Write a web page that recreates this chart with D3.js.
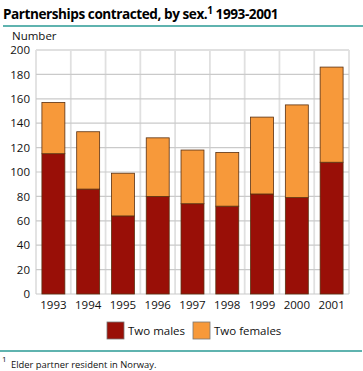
<!DOCTYPE html>
<html><head><meta charset="utf-8">
<script src="https://cdn.jsdelivr.net/npm/d3@7"></script>
<style>body{margin:0;background:#fff}svg{display:block}</style>
</head><body>
<svg id="c" width="363" height="371"></svg>
<script>
const years = ["1993","1994","1995","1996","1997","1998","1999","2000","2001"];
const twoMales = [115, 86, 64, 80, 74, 72, 82, 79, 108];
const twoFemales = [42, 47, 35, 48, 44, 44, 63, 76, 78];
const seriesNames = ["Two males", "Two females"];
const colors = ["#990f07", "#f7993a"];
const yTicks = [0,20,40,60,80,100,120,140,160,180,200];

const font = "'Open Sans', sans-serif";
const svg = d3.select("#c");
const m = {l:36, r:14, t:50, b:77};
const W = 363, H = 371;
const x = d3.scaleBand().domain(years).range([m.l, W - m.r]).paddingInner(0.34).paddingOuter(0.17);
const y = d3.scaleLinear().domain([0,200]).range([H - m.b, m.t]);

// title
const t = svg.append("text").attr("x",3).attr("y",19).attr("font-family",font)
  .attr("font-weight","bold").attr("font-size",13.6).attr("fill","#000").attr("letter-spacing","-0.45");
t.append("tspan").text("Partnerships contracted, by sex.");
t.append("tspan").attr("dy",-5).attr("font-size",10).text("1");
t.append("tspan").attr("dy",5).text(" 1993-2001");
svg.append("line").attr("x1",3).attr("x2",363).attr("y1",26).attr("y2",26).attr("stroke","#2a9a94").attr("stroke-width",1.5);

svg.append("text").attr("x",12).attr("y",39.5).attr("font-family",font).attr("font-size",11.5).attr("fill","#111").text("Number");

// grid
const g = svg.append("g");
const bounds = years.map(d => x(d) - x.step()*x.paddingInner()/2).concat([W-m.r]);
g.selectAll(".v").data(bounds).join("line").attr("y1",y(0)).attr("y2",y(200))
  .attr("x1",d=>d).attr("x2",d=>d).attr("stroke","#e0e0e0").attr("stroke-width",1.8);
g.selectAll(".h").data(yTicks).join("line").attr("x1",m.l).attr("x2",W-m.r)
  .attr("y1",d=>y(d)).attr("y2",d=>y(d)).attr("stroke",d=>d===200?"#e0e0e0":"#cacaca").attr("stroke-width",d=>d===200?1.8:1.2);

// y axis labels
const ya = svg.append("g").attr("transform",`translate(${m.l},0)`)
  .call(d3.axisLeft(y).tickValues(yTicks).tickSize(0).tickPadding(6));
ya.select(".domain").remove();
ya.selectAll("text").attr("font-family",font).attr("font-size",11.5).attr("fill","#111");

// bars
const stack = d3.stack().keys([0,1])(years.map((yr,i)=>[twoMales[i], twoFemales[i]]));
stack.forEach((s,k)=>{
  svg.append("g").selectAll("rect").data(s).join("rect")
    .attr("x",(d,i)=>x(years[i])).attr("width",x.bandwidth())
    .attr("y",d=>y(d[1])).attr("height",d=>y(d[0])-y(d[1]))
    .attr("fill",colors[k]).attr("stroke","#5a3010").attr("stroke-width",0.8);
});

// x axis labels
const xa = svg.append("g").attr("transform",`translate(0,${y(0)})`)
  .call(d3.axisBottom(x).tickSize(0).tickPadding(7));
xa.select(".domain").remove();
xa.selectAll("text").attr("font-family",font).attr("font-size",11.5).attr("fill","#111");

// legend
const legX = [107, 193];
seriesNames.forEach((n,i)=>{
  svg.append("rect").attr("x",legX[i]).attr("y",322).attr("width",17).attr("height",17)
    .attr("fill",colors[i]).attr("stroke","#777").attr("stroke-width",0.8);
  svg.append("text").attr("x",legX[i]+21).attr("y",335).attr("font-family",font)
    .attr("font-size",11.5).attr("fill","#111").text(n);
});
svg.append("line").attr("x1",0).attr("x2",362).attr("y1",351).attr("y2",351).attr("stroke","#2a9a94").attr("stroke-width",1.5);
svg.append("text").attr("x",2).attr("y",362).attr("font-family",font).attr("font-size",8).attr("fill","#111").text("1");
svg.append("text").attr("x",11).attr("y",368).attr("font-family",font).attr("font-size",9.4).attr("fill","#111").text("Elder partner resident in Norway.");
</script>
</body></html>
